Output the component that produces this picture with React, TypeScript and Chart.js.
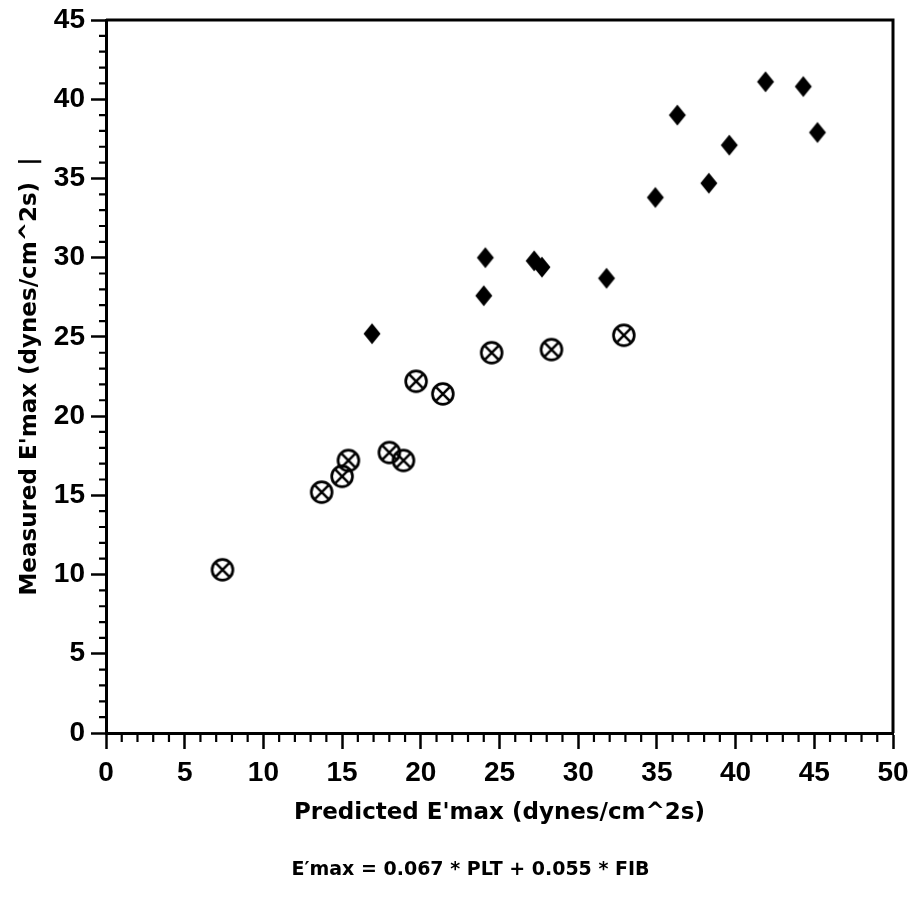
import React, { useEffect, useRef } from "react";
import { Chart, registerables } from "chart.js";

Chart.register(...registerables);

// Filled diamonds series
const diamondPredicted = [16.9, 24.1, 24.0, 27.2, 27.7, 31.8, 34.9, 36.3, 38.3, 39.6, 41.9, 44.3, 45.2];
const diamondMeasured = [25.2, 30.0, 27.6, 29.8, 29.4, 28.7, 33.8, 39.0, 34.7, 37.1, 41.1, 40.8, 37.9];

// Circled-X series
const circlePredicted = [7.4, 13.7, 15.0, 15.4, 18.0, 18.9, 19.7, 21.4, 24.5, 28.3, 32.9];
const circleMeasured = [10.3, 15.2, 16.2, 17.2, 17.7, 17.2, 22.2, 21.4, 24.0, 24.2, 25.1];

const xTitle = "Predicted E'max (dynes/cm^2s)";
const yTitle = "Measured E'max (dynes/cm^2s)  |";
const formula = "E\u2032max = 0.067 * PLT + 0.055 * FIB";

const xMin = 0, xMax = 50, xStep = 5;
const yMin = 0, yMax = 45, yStep = 5;

const TICK_FONT = "'Liberation Sans', Arial, sans-serif";
const TITLE_FONT = "'DejaVu Sans', sans-serif";

function makeDiamond(): HTMLCanvasElement {
  const c = document.createElement("canvas");
  c.width = 20;
  c.height = 24;
  const ctx = c.getContext("2d")!;
  ctx.fillStyle = "#000";
  ctx.beginPath();
  ctx.moveTo(10, 1.5);
  ctx.lineTo(18.5, 12);
  ctx.lineTo(10, 22.5);
  ctx.lineTo(1.5, 12);
  ctx.closePath();
  ctx.fill();
  return c;
}

function makeCircleX(): HTMLCanvasElement {
  const c = document.createElement("canvas");
  c.width = 28;
  c.height = 28;
  const ctx = c.getContext("2d")!;
  ctx.strokeStyle = "#000";
  ctx.lineWidth = 2.7;
  ctx.beginPath();
  ctx.arc(14, 14, 10.4, 0, Math.PI * 2);
  ctx.stroke();
  ctx.lineWidth = 2.5;
  ctx.beginPath();
  ctx.moveTo(14 - 6.6, 14 - 6.6);
  ctx.lineTo(14 + 6.6, 14 + 6.6);
  ctx.moveTo(14 + 6.6, 14 - 6.6);
  ctx.lineTo(14 - 6.6, 14 + 6.6);
  ctx.stroke();
  return c;
}

const framePlugin = {
  id: "frameAndMinor",
  afterDraw(chart: any) {
    const { ctx, chartArea, scales } = chart;
    const xs = scales.x;
    const ys = scales.y;
    ctx.save();
    ctx.strokeStyle = "#000";
    // top and right frame
    ctx.lineWidth = 3;
    ctx.beginPath();
    ctx.moveTo(chartArea.left, chartArea.top);
    ctx.lineTo(chartArea.right, chartArea.top);
    ctx.lineTo(chartArea.right, chartArea.bottom);
    ctx.stroke();
    // minor ticks
    ctx.lineWidth = 2.2;
    ctx.beginPath();
    for (let v = xMin; v <= xMax; v += 1) {
      if (v % xStep === 0) continue;
      const px = xs.getPixelForValue(v);
      ctx.moveTo(px, chartArea.bottom);
      ctx.lineTo(px, chartArea.bottom + 9);
    }
    for (let v = yMin; v <= yMax; v += 1) {
      if (v % yStep === 0) continue;
      const py = ys.getPixelForValue(v);
      ctx.moveTo(chartArea.left, py);
      ctx.lineTo(chartArea.left - 7, py);
    }
    ctx.stroke();
    // formula caption
    ctx.fillStyle = "#000";
    ctx.font = `bold 19px ${TITLE_FONT}`;
    ctx.textAlign = "center";
    ctx.textBaseline = "middle";
    const cx = (chartArea.left + chartArea.right) / 2 - 29;
    ctx.fillText(formula, cx, chartArea.bottom + 137);
    ctx.restore();
  },
};

export default function App() {
  const ref = useRef<HTMLCanvasElement | null>(null);

  useEffect(() => {
    if (!ref.current) return;
    const diamond = makeDiamond();
    const circleX = makeCircleX();
    const chart = new Chart(ref.current, {
      type: "scatter",
      data: {
        datasets: [
          {
            label: "circled",
            data: circlePredicted.map((x, i) => ({ x, y: circleMeasured[i] })),
            pointStyle: circleX as any,
            pointRadius: 11,
            backgroundColor: "#000",
            borderColor: "#000",
          },
          {
            label: "diamond",
            data: diamondPredicted.map((x, i) => ({ x, y: diamondMeasured[i] })),
            pointStyle: diamond as any,
            pointRadius: 10,
            backgroundColor: "#000",
            borderColor: "#000",
          },
        ],
      },
      options: {
        responsive: false,
        animation: false,
        events: [],
        layout: { padding: { top: 20, right: 20, left: 0, bottom: 0 } },
        plugins: {
          legend: { display: false },
          tooltip: { enabled: false },
          title: { display: false },
        },
        scales: {
          x: {
            type: "linear",
            min: xMin,
            max: xMax,
            ticks: {
              stepSize: xStep,
              color: "#000",
              font: { family: TICK_FONT, size: 28, weight: "bold" },
              padding: 7,
              maxRotation: 0,
            },
            grid: {
              drawOnChartArea: false,
              drawTicks: true,
              tickLength: 16,
              tickWidth: 2.5,
              tickColor: "#000",
            },
            border: { display: true, color: "#000", width: 3 },
            title: {
              display: true,
              text: xTitle,
              color: "#000",
              font: { family: TITLE_FONT, size: 23, weight: "bold" },
              padding: { top: 0, bottom: 71 },
            },
            afterFit(scale: any) {
              scale.height = 165;
              scale.paddingLeft = 0;
              scale.paddingRight = 0;
            },
          },
          y: {
            type: "linear",
            min: yMin,
            max: yMax,
            ticks: {
              stepSize: yStep,
              color: "#000",
              font: { family: TICK_FONT, size: 28, weight: "bold" },
              padding: 6,
            },
            grid: {
              drawOnChartArea: false,
              drawTicks: true,
              tickLength: 15,
              tickWidth: 2.5,
              tickColor: "#000",
            },
            border: { display: true, color: "#000", width: 3 },
            title: {
              display: true,
              text: yTitle,
              color: "#000",
              font: { family: TITLE_FONT, size: 23, weight: "bold" },
              padding: { top: 16, bottom: 0 },
            },
            afterFit(scale: any) {
              scale.width = 106;
              scale.paddingTop = 0;
              scale.paddingBottom = 0;
            },
          },
        },
      },
      plugins: [framePlugin],
    });
    return () => chart.destroy();
  }, []);

  return (
    <div style={{ position: "fixed", left: 0, top: 0, width: 913, height: 898, background: "#fff" }}>
      <canvas ref={ref} width={913} height={898} style={{ width: 913, height: 898, display: "block" }} />
    </div>
  );
}
